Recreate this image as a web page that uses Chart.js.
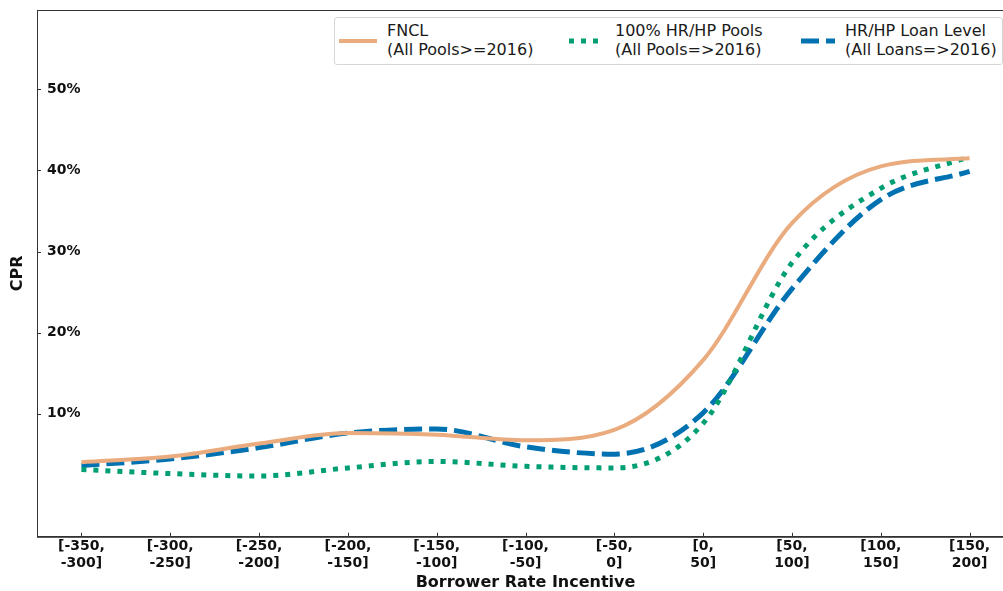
<!DOCTYPE html>
<html>
<head>
<meta charset="utf-8">
<script src="https://cdn.jsdelivr.net/npm/chart.js@4"></script>
<style>
  body { margin: 0; overflow: hidden; background: #fff; }
  #wrap { position: relative; width: 1016px; height: 591px; }
  #legend {
    position: absolute; left: 334px; top: 17px; width: 667px; height: 46px;
    border: 1px solid #d6d6d6; border-radius: 3px; background: #fff;
    font-family: "DejaVu Sans", sans-serif; font-size: 16px; color: #1a1a1a;
  }
  .entry { position: absolute; top: 3px; line-height: 19px; white-space: nowrap; }
  .entry svg { position: absolute; top: 15px; }
  .entry span { position: absolute; top: 0; }
</style>
</head>
<body>
<div id="wrap">
  <canvas id="chart"></canvas>
  <div id="legend"></div>
</div>
<script>
// bucket labels (two lines each)
const categories = [
  ['[-350,', '-300]'], ['[-300,', '-250]'], ['[-250,', '-200]'], ['[-200,', '-150]'],
  ['[-150,', '-100]'], ['[-100,', '-50]'], ['[-50,', '0]'], ['[0,', '50]'],
  ['[50,', '100]'], ['[100,', '150]'], ['[150,', '200]']
];

// CPR in percent
const fnclValues   = [4.0, 4.7, 6.3, 7.6, 7.4, 6.7, 8.0, 16.6, 33.5, 40.5, 41.5];
const hrhpPools    = [3.1, 2.6, 2.3, 3.3, 4.1, 3.5, 3.3, 8.8, 28.6, 37.8, 41.7];
const hrhpLoans    = [3.6, 4.4, 5.8, 7.6, 8.1, 5.9, 5.0, 10.1, 25.4, 36.4, 39.9];

const seriesLabels = [
  ['FNCL', '(All Pools>=2016)'],
  ['100% HR/HP Pools', '(All Pools=>2016)'],
  ['HR/HP Loan Level', '(All Loans=>2016)']
];
const yTicks = [10, 20, 30, 40, 50];

const orange = '#EAAC7E';
const green = '#009E73';
const blue = '#0072B2';

// frame + inward tick marks like the original
const framePlugin = {
  id: 'frame',
  afterDraw(chart) {
    const { ctx, chartArea: a, scales } = chart;
    ctx.save();
    ctx.strokeStyle = '#333';
    ctx.lineWidth = 1;
    ctx.strokeRect(a.left + 0.5, a.top + 0.5, a.right - a.left, a.bottom - a.top);
    ctx.beginPath();
    scales.x.ticks.forEach((t, i) => {
      const x = Math.round(scales.x.getPixelForTick(i)) + 0.5;
      ctx.moveTo(x, a.bottom);
      ctx.lineTo(x, a.bottom - 4);
    });
    yTicks.forEach(v => {
      const y = Math.round(scales.y.getPixelForValue(v)) + 0.5;
      ctx.moveTo(a.left, y);
      ctx.lineTo(a.left + 4, y);
    });
    ctx.stroke();
    ctx.restore();
  }
};

const ctx = document.getElementById('chart').getContext('2d');
const chart = new Chart(ctx, {
  type: 'line',
  data: {
    labels: categories,
    datasets: [
      { label: seriesLabels[0].join(' '), data: fnclValues, borderColor: orange,
        borderWidth: 4, borderCapStyle: 'butt' },
      { label: seriesLabels[1].join(' '), data: hrhpPools, borderColor: green,
        borderWidth: 5, borderDash: [5, 7], borderCapStyle: 'butt' },
      { label: seriesLabels[2].join(' '), data: hrhpLoans, borderColor: blue,
        borderWidth: 5, borderDash: [18, 7], borderCapStyle: 'butt' }
    ]
  },
  options: {
    responsive: true,
    maintainAspectRatio: false,
    animation: false,
    layout: { padding: { top: 10, left: 4, right: 2, bottom: 0 } },
    elements: {
      point: { radius: 0 },
      line: { cubicInterpolationMode: 'monotone', fill: false }
    },
    plugins: {
      legend: { display: false },
      tooltip: { enabled: false }
    },
    scales: {
      x: {
        offset: true,
        grid: { display: false, drawTicks: false },
        border: { display: true, color: '#333' },
        afterFit: s => { s.paddingLeft = 0; s.paddingRight = 0; },
        ticks: {
          color: '#111', padding: 2, maxRotation: 0, autoSkip: false,
          font: { family: 'DejaVu Sans', size: 14, weight: 'bold', lineHeight: 1.15 }
        },
        title: {
          display: true, text: 'Borrower Rate Incentive', color: '#111',
          padding: { top: 4, bottom: 2 },
          font: { family: 'DejaVu Sans', size: 16, weight: 'bold', lineHeight: 0.75 }
        }
      },
      y: {
        min: -5.2,
        max: 59.8,
        grid: { display: false, drawTicks: false },
        border: { display: true, color: '#333' },
        afterFit: s => { s.paddingTop = 0; s.paddingBottom = 0; s.width = 33; },
        afterBuildTicks: scale => { scale.ticks = yTicks.map(v => ({ value: v })); },
        ticks: {
          mirror: true, padding: 10, color: '#111',
          callback: v => v + '%',
          font: { family: 'DejaVu Sans', size: 14, weight: 'bold' }
        },
        title: {
          display: true, text: 'CPR', color: '#111',
          padding: { top: 4, bottom: 10 },
          font: { family: 'DejaVu Sans', size: 16, weight: 'bold', lineHeight: 1.2 }
        }
      }
    }
  },
  plugins: [framePlugin]
});

// legend built from the datasets
const legend = document.getElementById('legend');
const sampleX = [4, 234, 466];
const textX = [52, 280, 510];
chart.data.datasets.forEach((ds, i) => {
  const el = document.createElement('div');
  el.className = 'entry';
  el.style.left = sampleX[i] + 'px';
  const dash = ds.borderDash ? ds.borderDash.join(' ') : 'none';
  const len = i === 0 ? 38 : 34;
  el.innerHTML =
    `<svg width="${len}" height="10" style="left:0"><line x1="0" y1="5" x2="${len}" y2="5" ` +
    `stroke="${ds.borderColor}" stroke-width="${ds.borderWidth}" stroke-dasharray="${dash}"/></svg>` +
    `<span style="left:${textX[i] - sampleX[i]}px">${seriesLabels[i][0]}<br>${seriesLabels[i][1]}</span>`;
  legend.appendChild(el);
});
</script>
</body>
</html>
